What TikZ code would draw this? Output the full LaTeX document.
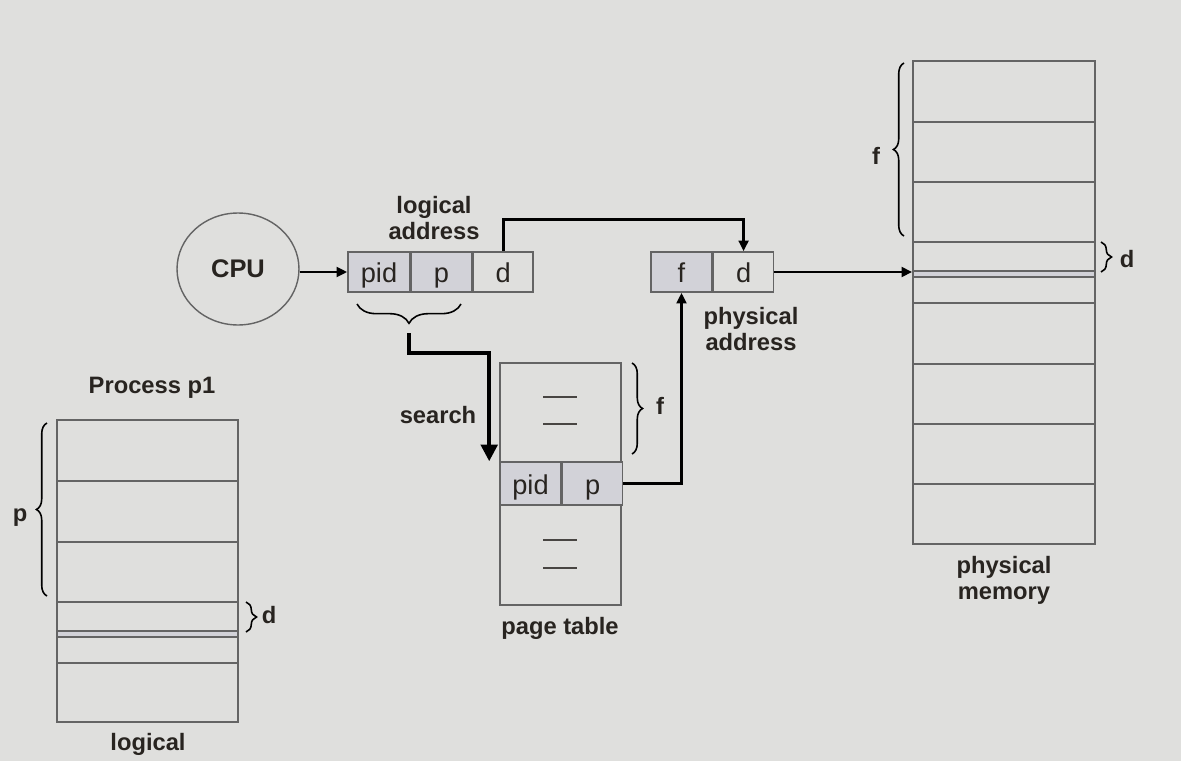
\documentclass[tikz,border=0pt]{standalone}
\usepackage{fontspec}
\setmainfont{Liberation Sans}
\usetikzlibrary{positioning,shapes.geometric,arrows.meta,decorations.pathreplacing}
\definecolor{slidebg}{RGB}{223,223,221}
\definecolor{cellgray}{RGB}{210,210,216}
\definecolor{linegray}{RGB}{100,100,100}
\definecolor{inkdark}{RGB}{40,36,32}

\begin{document}
\begin{tikzpicture}[x=0.02cm, y=-0.02cm, node distance=0pt,
    cell/.style={rectangle, draw=linegray, line width=0.9pt, minimum width=1.2cm, minimum height=0.8cm, inner sep=0pt, text=inkdark, text height=12pt, text depth=0pt, font=\fontsize{15.5}{17}\selectfont},
    shaded/.style={fill=cellgray},
    tag/.style={text=inkdark, align=center, font=\fontsize{13.5}{14.7}\selectfont\bfseries},
    memory/.style={rectangle, draw=linegray, line width=1pt, inner sep=0pt},
    memline/.style={linegray, line width=1pt},
    rowmark/.style={inkdark!85, line width=1.5pt},
    link/.style={line width=1.7pt, -{Triangle[length=6pt, width=5.5pt]}},
    searchlink/.style={line width=2pt, -{Triangle[length=9.5pt, width=9.5pt]}},
    brace/.style={decorate, decoration={brace, amplitude=6pt}, line width=0.9pt}
]
    \fill[slidebg] (0,0) rectangle (1181,761);
    \useasboundingbox (0,0) rectangle (1181,761);

    \node[ellipse, draw=linegray, line width=0.8pt, minimum width=2.44cm, minimum height=2.24cm] (cpu) at (238,269) [] {};
    \node[tag, font=\fontsize{14.5}{16}\selectfont\bfseries] (cpu_label) at (cpu) [] {CPU};

    \node[cell, shaded, minimum width=1.24cm] (lpid) at (379,272) [] {pid};
    \node[cell, shaded] (lp) [right=of lpid] {p};
    \node[cell] (ld) [right=of lp] {d};
    \node[tag] (logaddr_label) at (434,218) [] {logical\\address};
        \draw [link] (cpu.east |- lpid.west) -- (lpid.west);

    \node[cell, shaded, minimum width=1.22cm] (pf) at (681.5,272) [] {f};
    \node[cell] (pd) [right=of pf] {d};
    \node[tag] (physaddr_label) at (751,329) [] {physical\\address};
        \draw [link] (ld.north) -- ++(0,-32) -| (pd.north);

    \node[cell, minimum width=2.42cm, minimum height=1.98cm] (ptop) at (560.5,412.5) [] {};
    \node[cell, shaded, minimum width=1.22cm, minimum height=0.86cm] (ppid) at (530.5,483.5) [] {pid};
    \node[cell, shaded, minimum height=0.86cm] (pp) [right=of ppid] {p};
    \node[cell, minimum width=2.42cm, minimum height=2cm] (pbot) at (560.5,555) [] {};
    \foreach \y in {397,424,540,568}
        \draw [rowmark] (543,\y) -- (577,\y);
    \node[tag] (pt_label) at (560,628) [] {page table};
        \draw [link] (pp.east) -| (pf.south);

    \draw [brace, decoration={amplitude=11pt}] (461,304) -- (357,304);
    \coordinate (search_start) at (409,333);
    \coordinate (search_end) at ([xshift=-0.2cm]ppid.north west);
        \draw [searchlink] (search_start) -- ++(0,20) -| (search_end);
    \node[tag] (search_label) at (438,415) [] {search};

    \draw [brace] (632,363) -- (632,454);
    \node[tag] (ptf_label) at (660,406) [] {f};

    \fill[cellgray] (913,271) rectangle (1095,277);
    \foreach \y in {122,182,242,271,277,303,364,424,484}
        \draw [memline] (913,\y) -- (1095,\y);
    \node[memory, minimum width=3.64cm, minimum height=9.66cm] (physmem) at (1004,302.5) [] {};
    \node[tag] (physmem_label) at (1004,580) [] {physical\\memory};
        \draw [link] (pd.east) -- (pd.east -| physmem.west);
    \draw [brace] (904,236) -- (904,63);
    \node[tag] (memf_label) at (876,156) [] {f};
    \draw [brace] (1101,242) -- (1101,272);
    \node[tag] (memd_label) at (1127,259) [] {d};

    \fill[cellgray] (57,631) rectangle (238,637);
    \foreach \y in {481,542,602,631,637,663}
        \draw [memline] (57,\y) -- (238,\y);
    \node[memory, minimum width=3.62cm, minimum height=6.04cm] (logmem) at (147.5,571) [] {};
    \node[tag] (proc_label) at (152,388) [] {Process p1};
    \node[tag] (logmem_label) at (148,744) [] {logical};
    \draw [brace] (47,596) -- (47,423);
    \node[tag] (logp_label) at (20,518) [] {p};
    \draw [brace] (246,602) -- (246,632);
    \node[tag] (logd_label) at (269,615) [] {d};

\end{tikzpicture}
\end{document}
